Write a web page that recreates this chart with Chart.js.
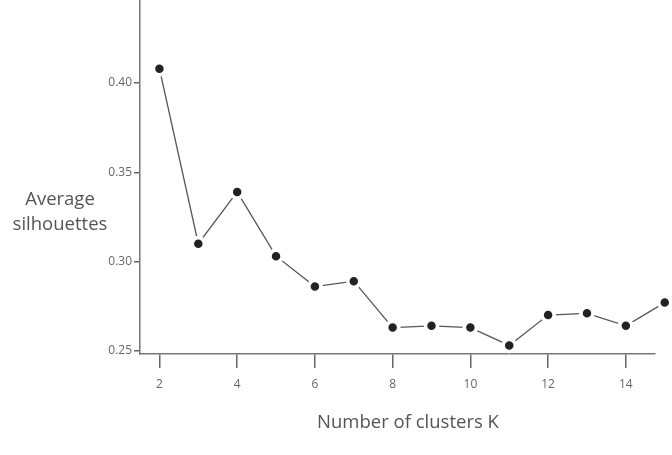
<!DOCTYPE html>
<html>
<head>
<meta charset="utf-8">
<script src="https://cdn.jsdelivr.net/npm/chart.js@4/dist/chart.umd.min.js"></script>
<style>
html,body{margin:0;padding:0;background:#fff;}
#wrap{position:relative;width:672px;height:455px;}
</style>
</head>
<body>
<div id="wrap"><canvas id="c" width="672" height="455"></canvas></div>
<script>
const clusters = [2,3,4,5,6,7,8,9,10,11,12,13,14,15];
const silhouettes = [0.408,0.310,0.339,0.303,0.286,0.289,0.263,0.264,0.263,0.253,0.270,0.271,0.264,0.277];
const xTicks = [2,4,6,8,10,12,14];
const yTicks = [0.25,0.30,0.35,0.40];
const xTitle = 'Number of clusters K';
const yTitleLines = ['Average','silhouettes'];

const FONT = '"Open Sans", "Noto Sans", sans-serif';

const titlesPlugin = {
  id: 'titles',
  afterDatasetsDraw(chart) {
    // redraw points without clipping to the chart area (last point sits past the axis end)
    const ctx = chart.ctx;
    const big = {left:-1e4, top:-1e4, right:1e4, bottom:1e4};
    chart.getDatasetMeta(0).data.forEach(p => p.draw(ctx, big));
  },
  afterDraw(chart) {
    const ctx = chart.ctx;
    ctx.save();
    ctx.font = '18.5px ' + FONT;
    ctx.fillStyle = '#555';
    ctx.textAlign = 'center';
    ctx.textBaseline = 'middle';
    ctx.fillText(yTitleLines[0], 60, 200);
    ctx.fillText(yTitleLines[1], 60, 225);
    ctx.fillText(xTitle, 408, 423);
    ctx.restore();
  }
};

function zeroPad(scale){ scale.paddingTop = 0; scale.paddingBottom = 0; scale.paddingLeft = 0; scale.paddingRight = 0; }

new Chart(document.getElementById('c'), {
  type: 'line',
  data: {
    datasets: [{
      data: clusters.map((k,i)=>({x:k, y:silhouettes[i]})),
      borderColor: '#555',
      borderWidth: 1.3,
      pointRadius: 6,
      pointHoverRadius: 6,
      pointBackgroundColor: '#222',
      pointBorderColor: '#fff',
      pointBorderWidth: 3.5,
      tension: 0,
      clip: false
    }]
  },
  options: {
    responsive: false,
    animation: false,
    layout: { autoPadding: false, padding: { left: 0, right: 17, top: 0, bottom: 0 } },
    plugins: { legend: { display: false }, tooltip: { enabled: false } },
    scales: {
      x: {
        type: 'linear',
        min: 1.5,
        max: 14.75,
        afterBuildTicks(scale) { scale.ticks = xTicks.map(v=>({value:v})); },
        afterFit(scale) { scale.height = 101; zeroPad(scale); },
        border: { color: '#777', width: 1.5 },
        grid: { drawOnChartArea: false, drawTicks: true, tickLength: 14, color: '#666', lineWidth: 1.5 },
        ticks: { color: '#666', font: { family: FONT, size: 12 }, padding: 9, autoSkip: false, maxRotation: 0,
                 callback: v => String(v) },
        title: { display: false }
      },
      y: {
        type: 'linear',
        min: 0.2482,
        max: 0.4465,
        afterBuildTicks(scale) { scale.ticks = yTicks.map(v=>({value:v})); },
        afterFit(scale) { scale.width = 140; zeroPad(scale); },
        border: { color: '#777', width: 1.5 },
        grid: { drawOnChartArea: false, drawTicks: true, tickLength: 6, color: '#666', lineWidth: 1.5 },
        ticks: { color: '#666', font: { family: FONT, size: 12 }, padding: 2,
                 callback: v => v.toFixed(2) }
      }
    }
  },
  plugins: [titlesPlugin]
});
</script>
</body>
</html>
